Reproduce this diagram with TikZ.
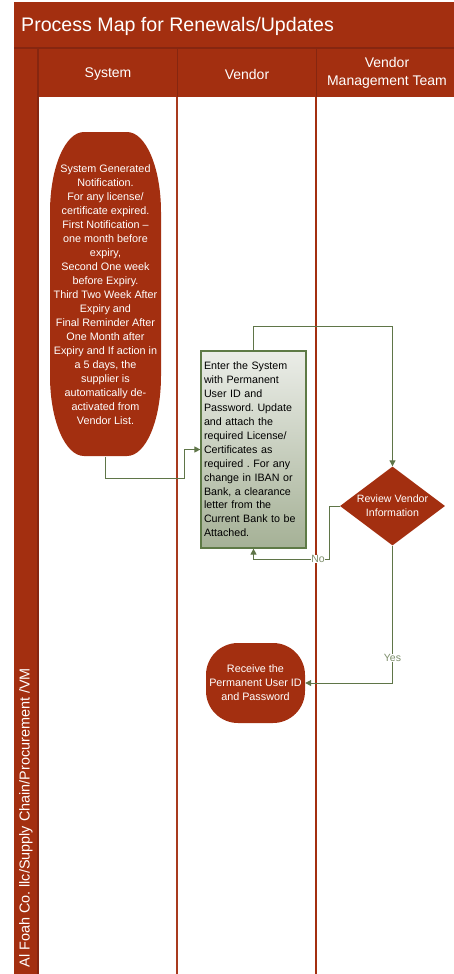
\documentclass[tikz,border=0pt]{standalone}
\usepackage{fontspec}
\setmainfont{Liberation Sans}
\usetikzlibrary{shapes.geometric,arrows.meta,calc}
\definecolor{rustred}{HTML}{A32F10}
\definecolor{rustdark}{HTML}{862610}
\definecolor{rustline}{HTML}{A83A1E}
\definecolor{olive}{HTML}{5F7548}
\definecolor{olivetext}{HTML}{7D8E6B}
\definecolor{boxtop}{HTML}{EBEDE8}
\definecolor{boxbot}{HTML}{A5B196}
\definecolor{boxedge}{HTML}{5E7A46}
\tikzset{
  conn/.style={draw=olive, line width=1pt},
  arr/.style={-{Triangle[length=6pt,width=6pt]}},
  hdr/.style={text=white, font=\fontsize{14}{18}\selectfont, align=center},
  wtext/.style={text=white, font=\fontsize{10.8}{14}\selectfont, align=center},
  lbl/.style={fill=white, text=olivetext, inner sep=0.6pt, font=\fontsize{10.5}{12}\selectfont},
  procbox/.style={draw=boxedge, line width=1.2pt, top color=boxtop, bottom color=boxbot,
    minimum width=105pt, minimum height=197pt, inner sep=3pt, text width=99pt, align=left,
    font=\fontsize{10.7}{13.9}\selectfont},
  decision/.style={diamond, fill=rustred, inner sep=0pt, aspect=1.33,
    minimum width=105pt, minimum height=79pt, text=white, align=center,
    font=\fontsize{10.6}{14}\selectfont},
  roundred/.style={fill=rustred, rounded corners=32pt, minimum width=99pt, minimum height=80pt,
    inner sep=0pt, text=white, align=center, font=\fontsize{10.8}{14}\selectfont}
}
\begin{document}
\frenchspacing
\begin{tikzpicture}[x=1pt,y=-1pt]
\useasboundingbox (0,0) rectangle (454,974);
% frame
\fill[rustred] (14,2) rectangle (456,48);
\fill[rustred] (14,48) rectangle (38,976);
\fill[rustred] (38,48) rectangle (456,97);
\draw[rustdark, line width=1.2pt] (14,48) -- (456,48);
\draw[rustdark, line width=1.2pt] (38,48) -- (38,976);
\draw[rustdark, line width=1pt] (177,48) -- (177,97);
\draw[rustdark, line width=1pt] (316,48) -- (316,97);
\draw[rustline, line width=1.6pt] (177,97) -- (177,976);
\draw[rustred, line width=1.6pt] (316,97) -- (316,976);
% texts of frame
\node[anchor=west, text=white, font=\fontsize{19.6}{22}\selectfont, inner sep=0pt] (title) at (21,26) {Process Map for Renewals/Updates};
\node[hdr] (hsys) at (108,74) {System};
\node[hdr] (hven) at (247,74) {Vendor};
\node[hdr] (hvmt) at (387,73) {Vendor\\Management Team};
\node[rotate=90, anchor=east, text=white, font=\fontsize{14.4}{16}\selectfont, inner sep=0pt] (pool) at (26,668) {Al Foah Co. llc/Supply Chain/Procurement /VM};
% system notification shape
\fill[rustred] (50,212) .. controls (50,168) and (65,132) .. (84,132) -- (127,132)
  .. controls (146,132) and (161,168) .. (161,212) -- (161,376)
  .. controls (161,420) and (146,456) .. (127,456) -- (84,456)
  .. controls (65,456) and (50,420) .. (50,376) -- cycle;
\node[wtext, minimum width=111pt, minimum height=324pt, inner sep=0pt] (sys) at (105.5,294.5)
 {System Generated\\Notification.\\For any license/\\certificate expired.\\First Notification --\\one month before\\expiry,\\Second One week\\before Expiry.\\Third Two Week After\\Expiry and\\Final Reminder After\\One Month after\\Expiry and If action in\\a 5 days, the\\supplier is\\automatically de-\\activated from\\Vendor List.};
% vendor box
\node[procbox] (box) at (253.5,449.5)
 {Enter the System\\with Permanent\\User ID and\\Password. Update\\and attach the\\required License/\\Certificates as\\required . For any\\change in IBAN or\\Bank, a clearance\\letter from the\\Current Bank to be\\Attached.};
% decision
\node[decision] (dia) at (392.5,506) {Review Vendor\\Information};
% receive
\node[roundred] (rcv) at (255.5,683) {Receive the\\Permanent User ID\\and Password};
% connectors
\coordinate (c1) at (184,478);
\coordinate (c3) at (329,559);
\draw[conn, arr] (sys.south) |- (c1) |- (box.west);
\draw[conn, arr] (box.north) -- ++(0,-24) -| (dia.north);
\draw[conn, arr] (dia.west) -| (c3) -| (box.south);
\draw[conn, arr] (dia.south) |- (rcv.east);
\node[lbl] (nolbl) at (318,559) {No};
\node[lbl] (yeslbl) at (392.5,658) {Yes};
\end{tikzpicture}
\end{document}
